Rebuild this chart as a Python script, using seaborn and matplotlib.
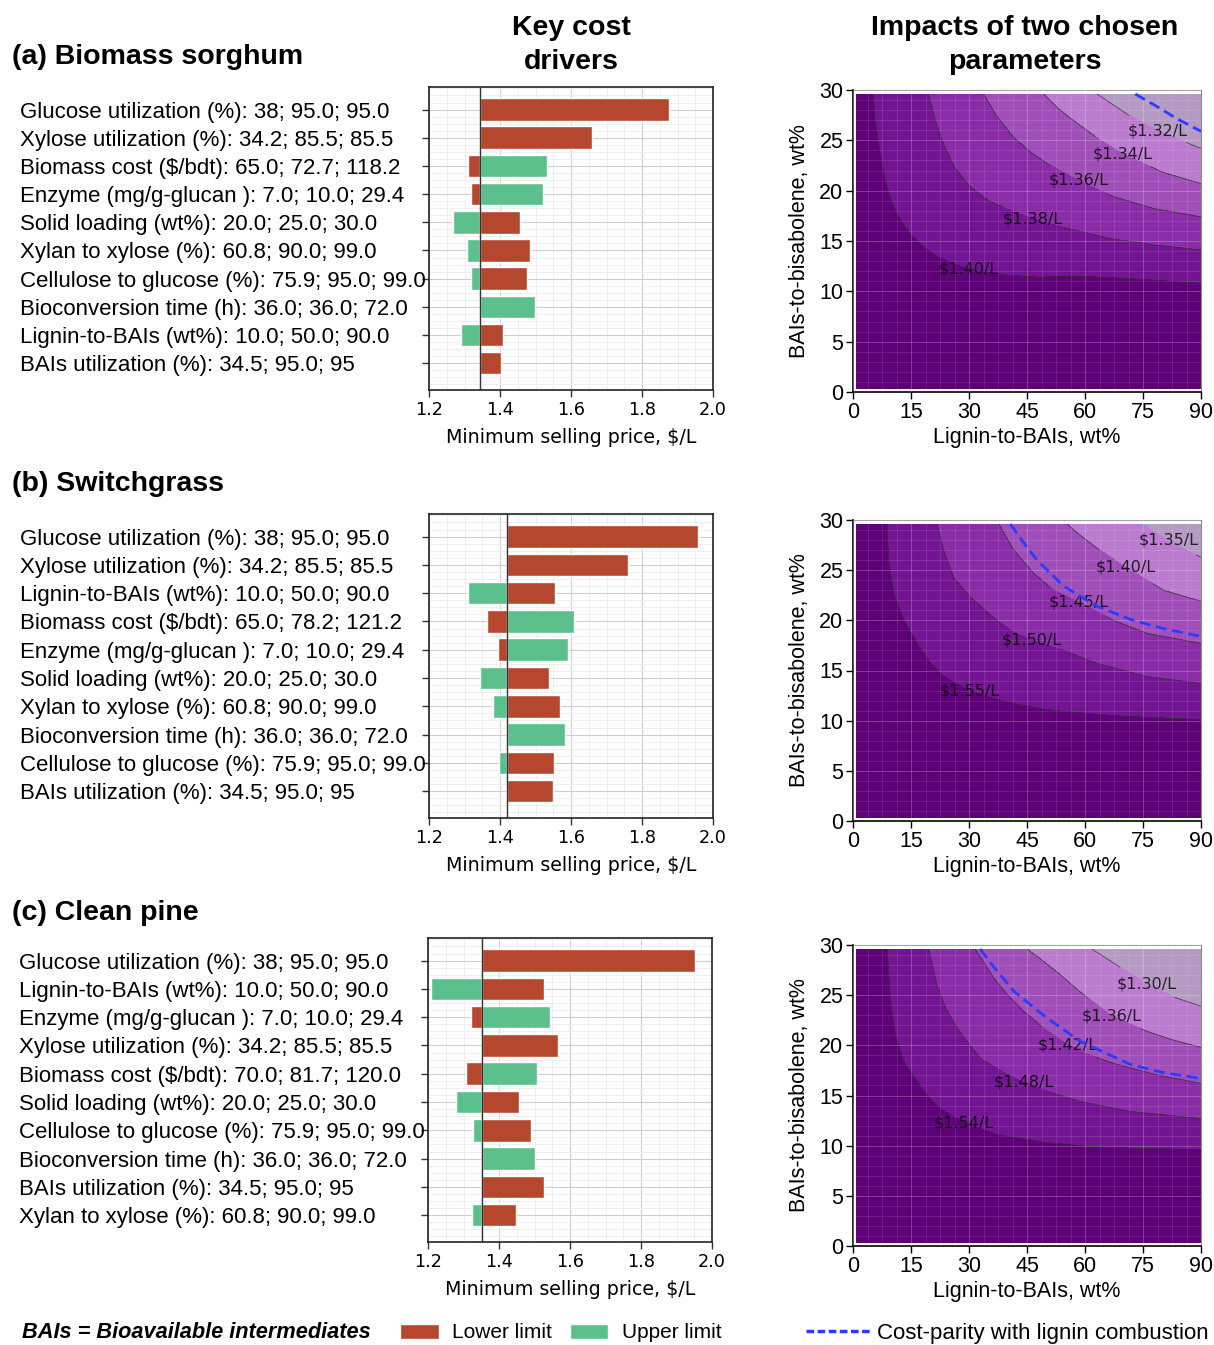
import matplotlib
matplotlib.use("Agg")
import matplotlib.pyplot as plt
import matplotlib.tri as mtri
import numpy as np
import seaborn as sns
from matplotlib.patches import Patch
from matplotlib.lines import Line2D
from matplotlib.ticker import MultipleLocator, AutoMinorLocator

# ---------------- key cost drivers (tornado) ----------------
# MSP ($/L) when each parameter sits at its lower / upper limit
sorghum_params = ["Glucose utilization (%): 38; 95.0; 95.0",
                  "Xylose utilization (%): 34.2; 85.5; 85.5",
                  "Biomass cost ($/bdt): 65.0; 72.7; 118.2",
                  "Enzyme (mg/g-glucan ): 7.0; 10.0; 29.4",
                  "Solid loading (wt%): 20.0; 25.0; 30.0",
                  "Xylan to xylose (%): 60.8; 90.0; 99.0",
                  "Cellulose to glucose (%): 75.9; 95.0; 99.0",
                  "Bioconversion time (h): 36.0; 36.0; 72.0",
                  "Lignin-to-BAIs (wt%): 10.0; 50.0; 90.0",
                  "BAIs utilization (%): 34.5; 95.0; 95"]
sorghum_base = 1.345
sorghum_low = [1.876, 1.658, 1.309, 1.318, 1.456, 1.484, 1.475, 1.345, 1.408, 1.404]
sorghum_high = [1.345, 1.345, 1.532, 1.521, 1.269, 1.306, 1.319, 1.498, 1.290, 1.345]

switch_params = ["Glucose utilization (%): 38; 95.0; 95.0",
                 "Xylose utilization (%): 34.2; 85.5; 85.5",
                 "Lignin-to-BAIs (wt%): 10.0; 50.0; 90.0",
                 "Biomass cost ($/bdt): 65.0; 78.2; 121.2",
                 "Enzyme (mg/g-glucan ): 7.0; 10.0; 29.4",
                 "Solid loading (wt%): 20.0; 25.0; 30.0",
                 "Xylan to xylose (%): 60.8; 90.0; 99.0",
                 "Bioconversion time (h): 36.0; 36.0; 72.0",
                 "Cellulose to glucose (%): 75.9; 95.0; 99.0",
                 "BAIs utilization (%): 34.5; 95.0; 95"]
switch_base = 1.420
switch_low = [1.957, 1.761, 1.555, 1.363, 1.395, 1.537, 1.570, 1.420, 1.551, 1.549]
switch_high = [1.420, 1.420, 1.311, 1.608, 1.592, 1.344, 1.380, 1.583, 1.397, 1.420]

pine_params = ["Glucose utilization (%): 38; 95.0; 95.0",
               "Lignin-to-BAIs (wt%): 10.0; 50.0; 90.0",
               "Enzyme (mg/g-glucan ): 7.0; 10.0; 29.4",
               "Xylose utilization (%): 34.2; 85.5; 85.5",
               "Biomass cost ($/bdt): 70.0; 81.7; 120.0",
               "Solid loading (wt%): 20.0; 25.0; 30.0",
               "Cellulose to glucose (%): 75.9; 95.0; 99.0",
               "Bioconversion time (h): 36.0; 36.0; 72.0",
               "BAIs utilization (%): 34.5; 95.0; 95",
               "Xylan to xylose (%): 60.8; 90.0; 99.0"]
pine_base = 1.352
pine_low = [1.951, 1.527, 1.321, 1.565, 1.307, 1.457, 1.489, 1.352, 1.528, 1.448]
pine_high = [1.352, 1.209, 1.544, 1.352, 1.508, 1.280, 1.326, 1.500, 1.352, 1.323]

# ---------------- two-parameter MSP maps ----------------
# points read along each MSP iso-line: x = lignin-to-BAIs (wt%), y = BAIs-to-bisabolene (wt%)
sorghum_levels = [1.40, 1.38, 1.36, 1.34, 1.32]
sorghum_iso_x = [[5.2, 5.7, 7.0, 8.7, 10.3, 12.2, 15.0, 18.2, 22.0, 26.0, 32.0, 40.0, 48.0, 56.0, 65.0, 78.0, 90.0],
                 [19.5, 21.3, 23.5, 26.3, 30.0, 35.0, 41.5, 48.0, 56.0, 67.0, 78.0, 90.0],
                 [33.8, 37.0, 41.5, 46.0, 50.2, 58.8, 67.4, 78.0, 90.0],
                 [49.3, 53.0, 56.2, 64.0, 70.0, 80.3, 90.0],
                 [63.1, 67.0, 70.9, 79.0, 90.0]]
sorghum_iso_y = [[29.6, 27.0, 23.7, 20.4, 18.6, 17.1, 15.6, 14.4, 13.4, 12.7, 12.0, 11.6, 11.4, 11.5, 11.4, 11.1, 10.8],
                 [29.6, 27.0, 24.5, 22.3, 20.5, 19.0, 17.9, 17.0, 16.2, 15.2, 14.6, 14.1],
                 [29.6, 27.5, 25.3, 23.8, 22.7, 20.9, 19.4, 18.2, 17.4],
                 [29.6, 28.2, 27.2, 25.0, 23.6, 21.8, 20.7],
                 [29.6, 28.6, 27.6, 25.9, 24.2]]
sorghum_corner_msp = [1.44, 1.43, 1.405, 1.30]  # (1,0.3), (90,0.3), (1,29.6), (90,29.6)
sorghum_parity_x = [73.0, 78.0, 84.0, 90.0]
sorghum_parity_y = [29.6, 28.5, 27.1, 25.9]

switch_levels = [1.55, 1.50, 1.45, 1.40, 1.35]
switch_iso_x = [[8.8, 9.2, 10.5, 13.1, 16.6, 19.5, 23.4, 30.0, 36.4, 43.0, 50.2, 58.0, 67.4, 78.0, 90.0],
                [21.7, 23.4, 26.0, 30.3, 37.2, 41.6, 47.0, 54.5, 63.1, 76.0, 90.0],
                [37.7, 41.6, 46.7, 51.9, 58.8, 67.4, 76.0, 90.0],
                [55.3, 59.0, 63.1, 70.4, 80.3, 90.0],
                [74.7, 80.0, 85.0, 90.0]]
switch_iso_y = [[29.6, 26.0, 22.7, 20.1, 17.7, 16.0, 14.4, 13.0, 12.2, 11.6, 11.1, 10.8, 10.5, 10.3, 10.1],
                [29.6, 27.0, 24.3, 22.3, 20.0, 18.8, 17.9, 17.0, 15.7, 14.4, 13.7],
                [29.6, 27.0, 24.7, 23.0, 21.7, 20.0, 18.7, 17.7],
                [29.6, 28.4, 27.2, 25.3, 23.0, 21.9],
                [29.6, 28.3, 27.2, 26.3]]
switch_corner_msp = [1.60, 1.59, 1.57, 1.32]
switch_parity_x = [40.7, 44.0, 47.6, 54.5, 63.1, 71.7, 80.0, 90.0]
switch_parity_y = [29.6, 27.8, 26.0, 23.4, 21.4, 20.1, 19.2, 18.4]

pine_levels = [1.54, 1.48, 1.42, 1.36, 1.30]
pine_iso_x = [[8.8, 9.7, 10.9, 13.1, 18.3, 22.6, 29.0, 37.2, 50.2, 60.0, 67.4, 78.0, 90.0],
              [19.6, 21.7, 24.0, 26.9, 32.9, 39.8, 46.0, 52.0, 58.8, 71.7, 90.0],
              [31.6, 33.8, 36.4, 40.0, 44.1, 50.0, 55.3, 60.0, 67.4, 78.0, 90.0],
              [45.0, 48.5, 52.8, 58.8, 67.0, 76.0, 83.0, 90.0],
              [61.8, 67.4, 76.0, 83.0, 90.0]]
pine_iso_y = [[29.6, 24.4, 21.1, 18.4, 15.4, 13.7, 12.2, 11.1, 10.3, 9.95, 9.8, 9.7, 9.6],
              [29.6, 26.0, 23.7, 21.7, 18.7, 17.1, 16.0, 15.2, 14.4, 13.4, 12.7],
              [29.6, 28.3, 26.7, 25.0, 23.4, 21.5, 20.1, 19.2, 18.2, 17.1, 16.2],
              [29.6, 28.6, 27.3, 25.3, 22.9, 21.4, 20.5, 19.8],
              [29.6, 28.2, 26.1, 24.8, 23.9]]
pine_corner_msp = [1.60, 1.58, 1.56, 1.25]
pine_parity_x = [32.9, 36.0, 41.6, 50.2, 58.8, 71.7, 80.0, 90.0]
pine_parity_y = [29.6, 28.0, 25.4, 22.7, 20.4, 18.1, 17.3, 16.7]

# ---------------- style ----------------
sns.set_theme(style="whitegrid")
plt.rcParams["font.family"] = ["Liberation Sans", "DejaVu Sans"]
plt.rcParams["text.color"] = "black"
plt.rcParams["axes.labelcolor"] = "black"
plt.rcParams["xtick.color"] = "black"
plt.rcParams["ytick.color"] = "black"

RED = "#b4472e"
GREEN = "#5cc08d"
PARITY = "#2a3cff"
band_colors = ["#b59bc4", "#bb7ccf", "#a04fb9", "#8a2ca8", "#731492", "#5e0077"]

W, H = 1214, 1345
fig = plt.figure(figsize=(W / 100, H / 100), dpi=100)


def px_axes(left, top, right, bottom):
    return fig.add_axes([left / W, 1 - bottom / H, (right - left) / W, (bottom - top) / H])


def tornado(ax, params, base, low, high):
    y = np.arange(len(params))
    low = np.array(low)
    high = np.array(high)
    ax.barh(y, high - base, left=base, height=0.8, color=GREEN, zorder=2)
    ax.barh(y, low - base, left=base, height=0.8, color=RED, zorder=2)
    ax.axvline(base, color="#333333", lw=1.0, zorder=3)
    ax.set_xlim(1.2, 2.0)
    ax.set_ylim(9.95, -0.8)
    ax.set_yticks(y)
    ax.set_yticklabels(params, fontsize=16.0, ha="left")
    ax.tick_params(axis="y", which="major", left=True, length=5, width=1, color="#333333", pad=289.5)
    ax.set_xticks([1.2, 1.4, 1.6, 1.8, 2.0])
    ax.set_xticklabels(["1.2", "1.4", "1.6", "1.8", "2.0"], fontfamily="DejaVu Sans", fontsize=12.7)
    ax.tick_params(axis="x", which="major", bottom=True, length=5, width=1, color="#333333", pad=3)
    ax.xaxis.set_minor_locator(MultipleLocator(0.05))
    ax.yaxis.set_minor_locator(MultipleLocator(0.25))
    ax.tick_params(which="minor", length=0)
    ax.grid(which="major", color="#cfcfcf", lw=0.8)
    ax.grid(which="minor", color="#ededed", lw=0.6)
    ax.set_xlabel("Minimum selling price, $/L", fontfamily="DejaVu Sans", fontsize=13.7)
    ax.xaxis.set_label_coords(0.5, -0.125)
    for s in ax.spines.values():
        s.set_color("#222222")
        s.set_linewidth(1.2)


def msp_map(ax, levels, iso_x, iso_y, corner_msp, parity_x, parity_y, label_at):
    xs = [1.0, 90.0, 1.0, 90.0]
    ys = [0.3, 0.3, 29.6, 29.6]
    zs = list(corner_msp)
    for lev, cx, cy in zip(levels, iso_x, iso_y):
        xs += cx
        ys += cy
        zs += [lev] * len(cx)
    xs, ys, zs = np.array(xs), np.array(ys), np.array(zs)
    # triangulate on a square-scaled domain so the mesh follows the iso-lines
    shape = mtri.Triangulation(xs / 90.0, ys / 30.0)
    tri = mtri.Triangulation(xs, ys, shape.triangles)
    bounds = [0.0] + sorted(levels) + [3.0]
    ax.tricontourf(tri, zs, levels=bounds, colors=band_colors, zorder=1)
    cs = ax.tricontour(tri, zs, levels=sorted(levels), colors="#333333",
                       linewidths=0.6, alpha=0.8, zorder=2)
    texts = ax.clabel(cs, manual=label_at, inline=True, fontsize=11.5, colors="black",
                      fmt=lambda v: f"${v:.2f}/L")
    for t in texts:
        t.set_rotation(0)
        t.set_fontfamily("DejaVu Sans")
    ax.plot(parity_x, parity_y, ls=(0, (4, 2)), color=PARITY, lw=2, zorder=4)
    ax.set_xlim(0, 90)
    ax.set_ylim(0, 30)
    ax.set_xticks(range(0, 91, 15))
    ax.set_yticks(range(0, 31, 5))
    ax.xaxis.set_minor_locator(AutoMinorLocator())
    ax.yaxis.set_minor_locator(AutoMinorLocator())
    ax.set_axisbelow(False)
    ax.grid(which="major", color="white", alpha=0.22, lw=0.8)
    ax.grid(which="minor", color="white", alpha=0.12, lw=0.6)
    ax.tick_params(which="major", labelsize=15.5, left=True, bottom=True, length=5,
                   width=1, color="black", pad=2)
    ax.tick_params(which="minor", length=0)
    ax.set_xlabel("Lignin-to-BAIs, wt%", fontsize=15.5)
    ax.set_ylabel("BAIs-to-bisabolene, wt%", fontsize=15.5)
    ax.xaxis.set_label_coords(0.5, -0.115)
    ax.yaxis.set_label_coords(-0.125, 0.5)
    for side in ["left", "bottom"]:
        ax.spines[side].set_color("black")
        ax.spines[side].set_linewidth(1.2)
    for side in ["top", "right"]:
        ax.spines[side].set_color("#8a8a8a")
        ax.spines[side].set_linewidth(0.8)


tornado(px_axes(429, 87, 713, 390), sorghum_params, sorghum_base, sorghum_low, sorghum_high)
tornado(px_axes(429, 514, 713, 818), switch_params, switch_base, switch_low, switch_high)
tornado(px_axes(428, 938, 712, 1242), pine_params, pine_base, pine_low, pine_high)

msp_map(px_axes(853, 90, 1201, 392), sorghum_levels, sorghum_iso_x, sorghum_iso_y,
        sorghum_corner_msp, sorghum_parity_x, sorghum_parity_y,
        [(30.3, 12.6), (46.7, 17.6), (58.8, 21.4), (70.0, 23.9), (79.0, 26.2)])
msp_map(px_axes(853, 520, 1201, 821), switch_levels, switch_iso_x, switch_iso_y,
        switch_corner_msp, switch_parity_x, switch_parity_y,
        [(30.3, 13.1), (46.7, 18.4), (58.8, 22.2), (70.4, 25.2), (81.6, 28.0)])
msp_map(px_axes(853, 945, 1201, 1246), pine_levels, pine_iso_x, pine_iso_y,
        pine_corner_msp, pine_parity_x, pine_parity_y,
        [(28.6, 12.3), (44.1, 16.4), (55.3, 20.0), (67.0, 22.9), (76.0, 26.2)])

# titles
title_kw = dict(fontsize=20.5, weight="bold")
fig.text(12 / W, 1 - 57 / H, "(a) Biomass sorghum", ha="left", va="center", **title_kw)
fig.text(12 / W, 1 - 484 / H, "(b) Switchgrass", ha="left", va="center", **title_kw)
fig.text(12 / W, 1 - 913 / H, "(c) Clean pine", ha="left", va="center", **title_kw)
fig.text(571 / W, 1 - 45 / H, "Key cost\ndrivers", ha="center", va="center", linespacing=1.38, **title_kw)
fig.text(1025 / W, 1 - 45 / H, "Impacts of two chosen\nparameters", ha="center", va="center",
         linespacing=1.38, **title_kw)

# bottom legend
yleg = 1 - 1333 / H
fig.text(22 / W, yleg, "BAIs = Bioavailable intermediates", ha="left", va="center",
         fontsize=15.7, weight="bold", style="italic")
fig.legend(handles=[Patch(facecolor=RED, label="Lower limit"),
                    Patch(facecolor=GREEN, label="Upper limit")],
           loc="center left", bbox_to_anchor=(400 / W, yleg), ncol=2, frameon=False,
           fontsize=15.0, handlelength=1.85, handleheight=0.7, handletextpad=0.65,
           columnspacing=0.85, borderpad=0, borderaxespad=0)
fig.legend(handles=[Line2D([0], [0], color=PARITY, ls=(0, (2.2, 1.0)), lw=2.5,
                           label="Cost-parity with lignin combustion")],
           loc="center left", bbox_to_anchor=(806 / W, yleg), frameon=False,
           fontsize=16.0, handlelength=2.9, handletextpad=0.3, borderpad=0, borderaxespad=0)

fig.savefig("out.png", dpi=100)
